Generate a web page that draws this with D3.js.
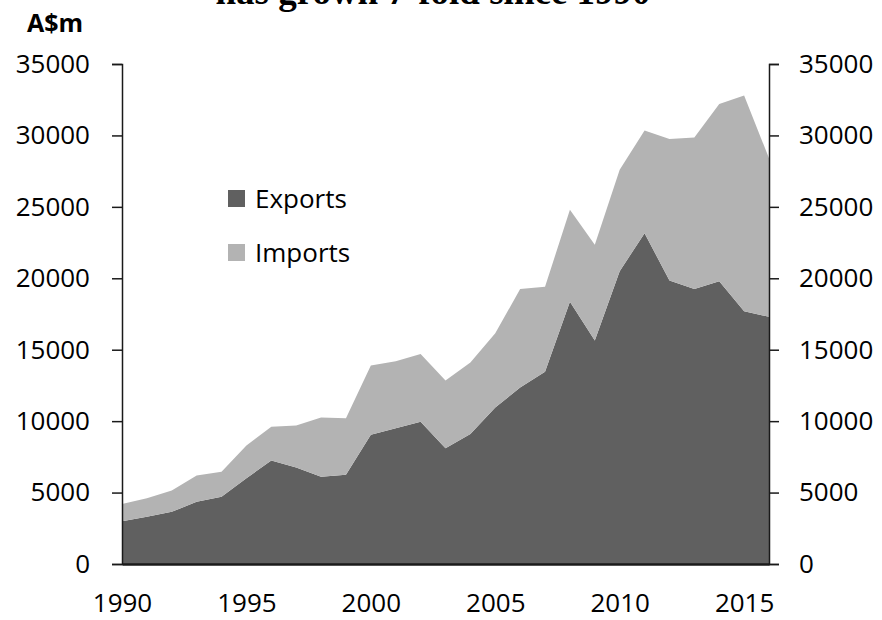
<!DOCTYPE html>
<html>
<head>
<meta charset="utf-8">
<script src="https://cdn.jsdelivr.net/npm/d3@7"></script>
<style>
  body { margin: 0; background: #fff; }
  svg { display: block; font-family: 'Open Sans', sans-serif; }
  .tick text { font-size: 26px; fill: #000; }
</style>
</head>
<body>
<svg id="canvas"></svg>
<script>
// values (A$m)
const years = [1990, 1991, 1992, 1993, 1994, 1995, 1996, 1997, 1998, 1999, 2000, 2001, 2002,
	2003, 2004, 2005, 2006, 2007, 2008, 2009, 2010, 2011, 2012, 2013, 2014, 2015, 2016];
const exportsM = [3000, 3300, 3650, 4350, 4700, 6000, 7250, 6750, 6100, 6250, 9050, 9500, 9950,
	8100, 9100, 10950, 12350, 13450, 18350, 15650, 20500, 23150, 19850, 19250, 19800, 17700, 17300];
const importsM = [1200, 1300, 1500, 1850, 1750, 2300, 2350, 2950, 4150, 3950, 4850, 4700, 4750,
	4750, 5000, 5200, 6900, 5950, 6450, 6700, 7100, 7200, 9900, 10600, 12400, 15100, 11100];
const yTicks = [0, 5000, 10000, 15000, 20000, 25000, 30000, 35000];
const xTicks = [1990, 1995, 2000, 2005, 2010, 2015];
const seriesNames = ['Exports', 'Imports'];
const seriesColors = ['#606060', '#b3b3b3'];

const width = 882;
const height = 620;
const plotLeft = 122, plotRight = 769, plotTop = 64, plotBottom = 564;

const canvas = d3.select('#canvas').attr('width', width).attr('height', height);

const x = d3.scaleLinear().domain([1990, 2016]).range([plotLeft, plotRight]);
const y = d3.scaleLinear().domain([0, 35000]).range([plotBottom, plotTop]);

const rows = years.map((yr, i) => ({ year: yr, Exports: exportsM[i], Imports: importsM[i] }));
const stacked = d3.stack().keys(seriesNames)(rows);

const area = d3.area()
	.x((d) => x(d.data.year))
	.y0((d) => y(d[0]))
	.y1((d) => y(d[1]));

canvas.selectAll('path.layer')
	.data(stacked)
	.enter()
	.append('path')
	.attr('class', 'layer')
	.attr('fill', (d, i) => seriesColors[i])
	.attr('d', area);

// axes
const styleAxis = (g) => {
	g.attr('font-family', null).attr('font-size', null);
	g.selectAll('.domain, .tick line').attr('stroke', '#1a1a1a').attr('stroke-width', 1.5);
};

canvas.append('g')
	.attr('transform', `translate(${plotLeft},0)`)
	.call(d3.axisLeft(y).tickValues(yTicks).tickSize(10).tickPadding(22).tickFormat(d3.format('d')))
	.call(styleAxis);

canvas.append('g')
	.attr('transform', `translate(${plotRight},0)`)
	.call(d3.axisRight(y).tickValues(yTicks).tickSize(10).tickPadding(20).tickFormat(d3.format('d')))
	.call(styleAxis);

canvas.append('g')
	.attr('transform', `translate(0,${plotBottom})`)
	.call(d3.axisBottom(x).tickValues(xTicks).tickSize(0).tickPadding(30).tickFormat(d3.format('d')))
	.call(styleAxis)
	.call((g) => g.select('.domain').attr('stroke-width', 2.5));

// legend
const legend = canvas.selectAll('g.legend')
	.data(seriesNames)
	.enter()
	.append('g')
	.attr('class', 'legend')
	.attr('transform', (d, i) => `translate(228, ${190 + i * 54})`);
legend.append('rect')
	.attr('width', 17)
	.attr('height', 17)
	.attr('fill', (d, i) => seriesColors[i]);
legend.append('text')
	.attr('x', 27)
	.attr('y', 9)
	.attr('dy', '0.35em')
	.attr('font-size', 26)
	.text((d) => d);

// y unit label
canvas.append('text')
	.attr('x', 55)
	.attr('y', 32)
	.attr('text-anchor', 'middle')
	.attr('font-size', 25)
	.attr('font-weight', 'bold')
	.text('A$m');

// title, cut off at the top as in the source
canvas.append('text')
	.attr('x', 433)
	.attr('y', 4)
	.attr('text-anchor', 'middle')
	.attr('font-family', "'Liberation Serif', serif")
	.attr('font-weight', 'bold')
	.attr('font-size', 37)
	.text('has grown 7-fold since 1990');
</script>
</body>
</html>
